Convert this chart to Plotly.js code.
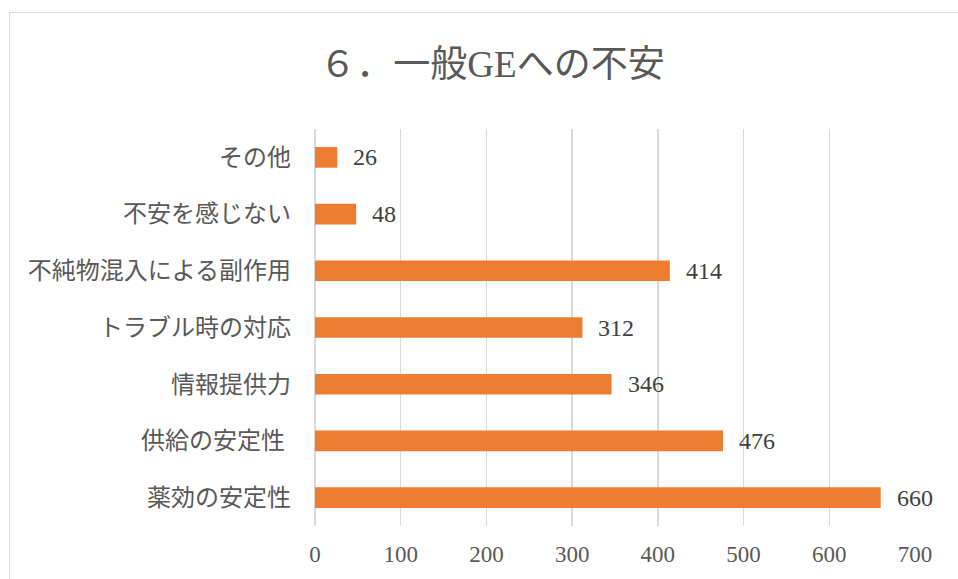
<!DOCTYPE html>
<html>
<head>
<meta charset="utf-8">
<script src="https://cdn.plot.ly/plotly-3.0.1.min.js"></script>
<style>
  html, body { margin: 0; padding: 0; background: #ffffff; overflow: hidden; }
  #wrap { position: relative; width: 958px; height: 579px; }
  #chart { position: absolute; left: 0; top: 0; width: 958px; height: 579px; }
  #frame { position: absolute; left: 9px; top: 12px; width: 1000px; height: 700px;
           border: 1.5px solid #d9d9d9; pointer-events: none; box-sizing: border-box; }
</style>
</head>
<body>
<div id="wrap">
  <div id="chart"></div>
  <div id="frame"></div>
</div>
<script>
// Data (bottom to top, as in the source sheet)
var categories = ["薬効の安定性", "供給の安定性\u00a0", "情報提供力", "トラブル時の対応", "不純物混入による副作用", "不安を感じない", "その他"];
var values = [660, 476, 346, 312, 414, 48, 26];
var xTickVals = [0, 100, 200, 300, 400, 500, 600, 700];
var chartTitle = "６．一般GEへの不安";

var serif = "Liberation Serif, Noto Sans CJK JP, serif";

var trace = {
  type: "bar",
  orientation: "h",
  x: values,
  y: categories,
  marker: { color: "#ED7D31" },
  hoverinfo: "x+y"
};

var annotations = values.map(function (v, i) {
  return {
    x: v, y: categories[i], xref: "x", yref: "y",
    text: String(v), showarrow: false,
    xanchor: "left", yanchor: "middle", xshift: 14,
    font: { family: serif, size: 24, color: "#404040" }
  };
});

var layout = {
  width: 958, height: 579,
  margin: { l: 315, r: 43, t: 129, b: 53 },
  paper_bgcolor: "#ffffff",
  plot_bgcolor: "#ffffff",
  showlegend: false,
  bargap: 0.636,
  title: {
    text: chartTitle,
    x: 492 / 958, xref: "container", xanchor: "center",
    y: 1 - 64 / 579, yref: "container", yanchor: "middle",
    font: { family: serif, size: 37, color: "#595959" }
  },
  xaxis: {
    range: [0, 700],
    tickvals: xTickVals,
    showgrid: true, gridcolor: "#d9d9d9", gridwidth: 1.5,
    zeroline: true, zerolinecolor: "#d9d9d9", zerolinewidth: 1.5,
    showline: false, ticks: "",
    ticklabelstandoff: 12,
    tickfont: { family: serif, size: 23, color: "#595959" },
    fixedrange: true
  },
  yaxis: {
    type: "category",
    showgrid: false, zeroline: false, showline: false, ticks: "",
    ticklabelstandoff: 23,
    tickfont: { family: serif, size: 24, color: "#595959" },
    fixedrange: true
  },
  annotations: annotations
};

Plotly.newPlot("chart", [trace], layout, { displayModeBar: false, staticPlot: true });
</script>
</body>
</html>
